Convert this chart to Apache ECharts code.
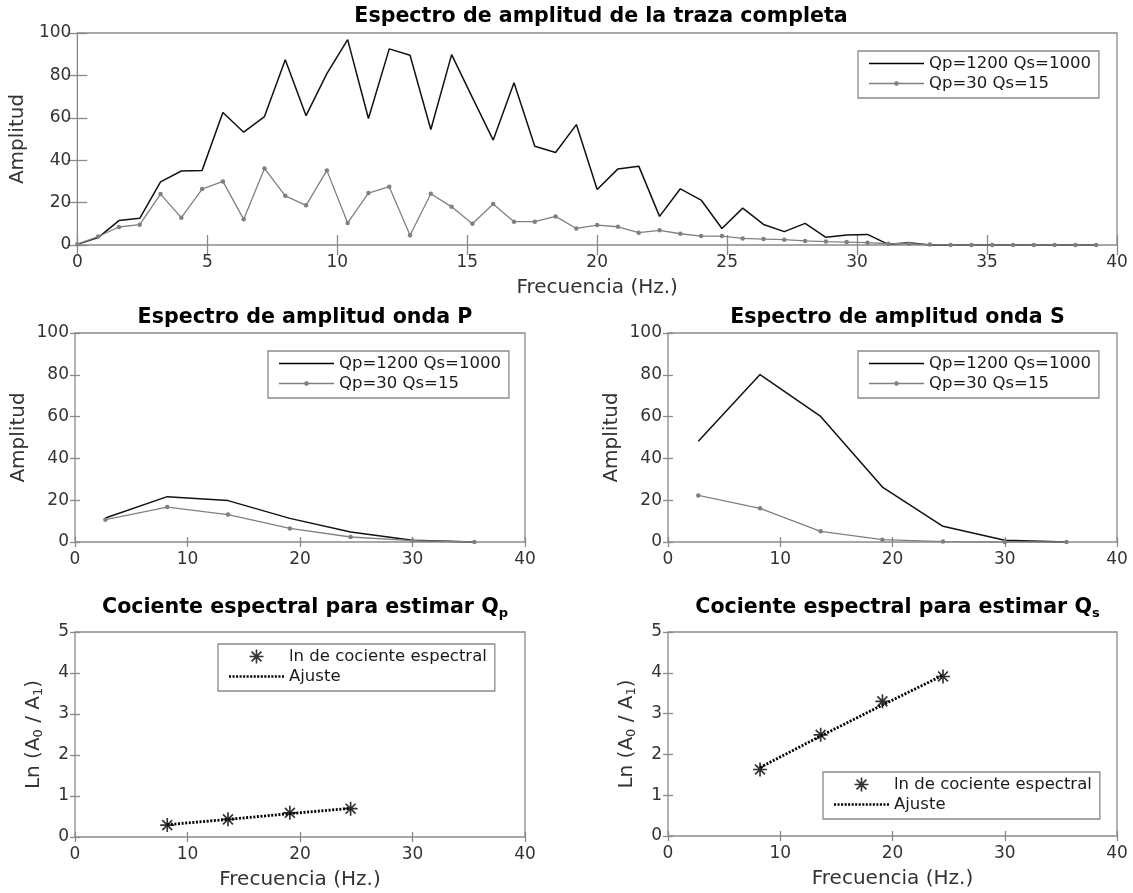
<!DOCTYPE html>
<html>
<head>
<meta charset="utf-8">
<script src="https://cdn.jsdelivr.net/npm/echarts@6/dist/echarts.min.js"></script>
<style>
  html, body { margin: 0; padding: 0; background: #ffffff; }
  #chart { width: 1133px; height: 893px; }
</style>
</head>
<body>
<div id="chart"></div>
<script>
// ---- Amplitude spectrum of the full trace (0.8 Hz spacing) ----
const fullFreq = [0, 0.8, 1.6, 2.4, 3.2, 4, 4.8, 5.6, 6.4, 7.2, 8, 8.8, 9.6, 10.4, 11.2, 12, 12.8, 13.6, 14.4, 15.2,
                  16, 16.8, 17.6, 18.4, 19.2, 20, 20.8, 21.6, 22.4, 23.2, 24, 24.8, 25.6, 26.4, 27.2, 28, 28.8, 29.6, 30.4, 31.2,
                  32, 32.8, 33.6, 34.4, 35.2, 36, 36.8, 37.6, 38.4, 39.2];
const fullHighQ = [0.3, 3.5, 11.5, 12.6, 29.8, 34.9, 35.2, 62.5, 53.2, 60.6, 87.4, 61, 80.8, 96.9, 59.7, 92.5, 89.5, 54.5, 89.8, 69.5,
                   49.5, 76.5, 46.6, 43.6, 56.8, 26.2, 35.9, 37.2, 13.5, 26.5, 21.2, 7.8, 17.4, 9.7, 6.3, 10.2, 3.6, 4.7, 5.0, 0.3,
                   1.1, 0, 0, 0, 0, 0, 0, 0, 0, 0];
const fullLowQ = [0.4, 4, 8.5, 9.6, 24, 12.9, 26.4, 30, 12.1, 36.1, 23.2, 18.7, 35.2, 10.4, 24.5, 27.5, 4.6, 24.2, 18, 10,
                  19.3, 11, 11, 13.5, 7.8, 9.4, 8.6, 5.8, 6.9, 5.3, 4.2, 4.2, 3.1, 2.8, 2.5, 1.9, 1.6, 1.4, 1.1, 0.6,
                  0.6, 0.2, 0, 0, 0, 0, 0, 0, 0, 0];

// ---- P and S wave amplitude spectra (band centres) ----
const bandFreq = [2.7, 8.2, 13.6, 19.1, 24.5, 30.0, 35.5];
const pHighQ = [11.5, 21.7, 19.8, 11.3, 4.8, 0.8, 0];
const pLowQ  = [10.7, 16.7, 13.1, 6.5, 2.4, 0.7, 0];
const sHighQ = [48.2, 80.1, 60.1, 26.3, 7.5, 0.8, 0];
const sLowQ  = [22.3, 16.1, 5.1, 1.1, 0.2, 0, 0];

// ---- Spectral ratios ln(A0/A1) and their linear fits ----
const ratioFreq = [8.2, 13.6, 19.1, 24.5];
const lnRatioP = [0.29, 0.43, 0.59, 0.69];
const fitP     = [0.30, 0.43, 0.57, 0.70];
const lnRatioS = [1.63, 2.48, 3.30, 3.91];
const fitS     = [1.68, 2.45, 3.21, 3.94];

// ---- Legend entries ----
const nameHighQ = 'Qp=1200 Qs=1000';
const nameLowQ  = 'Qp=30 Qs=15';
const nameRatio = 'ln de cociente espectral';
const nameFit   = 'Ajuste';

const zip = (xs, ys) => xs.map((x, i) => [x, ys[i]]);

const FONT = 'DejaVu Sans';
const AXIS_GRAY = '#8a8a8a';
const LABEL_COLOR = '#333333';
const LOW_GRAY = '#808080';

// asterisk marker (+ and x overlapped)
const STAR = 'path://M-1.2,-10 L1.2,-10 L1.2,10 L-1.2,10 Z M-10,-1.2 L10,-1.2 L10,1.2 L-10,1.2 Z ' +
             'M-6.22,-7.92 L7.92,6.22 L6.22,7.92 L-7.92,-6.22 Z M6.22,-7.92 L7.92,-6.22 L-6.22,7.92 L-7.92,6.22 Z';

// legend glyphs: plain line, line with a small dot, dotted line
const ICON_LINE = 'path://M0,-0.7 L55,-0.7 L55,0.7 L0,0.7 Z';
const ICON_LINE_DOT = 'path://M0,-0.65 L55,-0.65 L55,0.65 L0,0.65 Z ' +
  'M26.6,-2.2 L28.4,-2.2 L29.7,-0.9 L29.7,0.9 L28.4,2.2 L26.6,2.2 L25.3,0.9 L25.3,-0.9 Z';
let dots = '';
for (let x = 0; x + 2 <= 57; x += 3.6) dots += 'M' + x.toFixed(1) + ',-1.4 h2.1 v2.8 h-2.1 Z ';
const ICON_DOTTED = 'path://' + dots;

const panels = [
  { box: { left: 75, top: 33, width: 1042, height: 212 }, x: [0, 40, 5], y: [0, 100, 20], tick: 10,
    xName: 'Frecuencia (Hz.)', yName: 'Amplitud',
    title: 'Espectro de amplitud de la traza completa', titleTop: 1,
    legend: { left: 858, top: 51, data: [{ name: nameHighQ, icon: ICON_LINE }, { name: nameLowQ, icon: ICON_LINE_DOT }] } },
  { box: { left: 75, top: 333, width: 450, height: 209 }, x: [0, 40, 10], y: [0, 100, 20], tick: 5,
    xName: '', yName: 'Amplitud',
    title: 'Espectro de amplitud onda P', titleTop: 302,
    legend: { left: 268, top: 351, data: [{ name: nameHighQ, icon: ICON_LINE }, { name: nameLowQ, icon: ICON_LINE_DOT }] } },
  { box: { left: 668, top: 333, width: 449, height: 209 }, x: [0, 40, 10], y: [0, 100, 20], tick: 5,
    xName: '', yName: 'Amplitud',
    title: 'Espectro de amplitud onda S', titleTop: 302,
    legend: { left: 858, top: 351, data: [{ name: nameHighQ, icon: ICON_LINE }, { name: nameLowQ, icon: ICON_LINE_DOT }] } },
  { box: { left: 75, top: 632, width: 450, height: 205 }, x: [0, 40, 10], y: [0, 5, 1], tick: 5,
    xName: 'Frecuencia (Hz.)', yName: 'Ln (A{s|0} / A{s|1})',
    title: 'Cociente espectral para estimar Q{sub|p}', titleTop: 590,
    legend: { left: 218, top: 644, data: [{ name: nameRatio }, { name: nameFit, icon: ICON_DOTTED }] } },
  { box: { left: 668, top: 632, width: 449, height: 204 }, x: [0, 40, 10], y: [0, 5, 1], tick: 5,
    xName: 'Frecuencia (Hz.)', yName: 'Ln (A{s|0} / A{s|1})',
    title: 'Cociente espectral para estimar Q{sub|s}', titleTop: 590,
    legend: { left: 823, top: 772, data: [{ name: nameRatio }, { name: nameFit, icon: ICON_DOTTED }] } }
];

const grids = [], xAxes = [], yAxes = [], titles = [], legends = [];

panels.forEach((p, i) => {
  grids.push(Object.assign({ show: true, borderColor: AXIS_GRAY, borderWidth: 1.3, backgroundColor: 'transparent' }, p.box));
  const tickStyle = { inside: true, length: p.tick, lineStyle: { color: AXIS_GRAY, width: 1.3 } };
  const labelStyle = { fontFamily: FONT, fontSize: 17, color: LABEL_COLOR };
  // bottom axis with labels, top axis for the mirrored ticks
  xAxes.push({
    type: 'value', gridIndex: i, position: 'bottom', min: p.x[0], max: p.x[1], interval: p.x[2],
    axisLine: { show: false }, axisTick: tickStyle, splitLine: { show: false },
    axisLabel: Object.assign({ margin: 9 }, labelStyle),
    name: p.xName, nameLocation: 'middle', nameGap: 33,
    nameTextStyle: { fontFamily: FONT, fontSize: 20, color: LABEL_COLOR }
  });
  xAxes.push({
    type: 'value', gridIndex: i, position: 'top', min: p.x[0], max: p.x[1], interval: p.x[2],
    axisLine: { show: false }, axisTick: tickStyle, splitLine: { show: false }, axisLabel: { show: false }
  });
  yAxes.push({
    type: 'value', gridIndex: i, position: 'left', min: p.y[0], max: p.y[1], interval: p.y[2],
    axisLine: { show: false }, axisTick: tickStyle, splitLine: { show: false },
    axisLabel: Object.assign({ margin: 6 }, labelStyle),
    name: p.yName, nameLocation: 'middle', nameGap: i >= 3 ? 30 : 46,
    nameTextStyle: { fontFamily: FONT, fontSize: 20, color: LABEL_COLOR,
      rich: { s: { fontFamily: FONT, fontSize: 13, color: LABEL_COLOR, padding: [10, 0, 0, 0] } } }
  });
  yAxes.push({
    type: 'value', gridIndex: i, position: 'right', min: p.y[0], max: p.y[1], interval: p.y[2],
    axisLine: { show: false }, axisTick: tickStyle, splitLine: { show: false }, axisLabel: { show: false }
  });
  titles.push({
    text: p.title, left: p.box.left + p.box.width / 2, top: p.titleTop, textAlign: 'center',
    textStyle: { fontFamily: FONT, fontSize: 20.6, fontWeight: 'bold', color: '#000',
      rich: { sub: { fontFamily: FONT, fontSize: 13, fontWeight: 'bold', color: '#000', padding: [12, 0, 0, 0] } } }
  });
  legends.push({
    data: p.legend.data, left: p.legend.left, top: p.legend.top, orient: 'vertical',
    itemWidth: 55, itemHeight: 14, itemGap: 3, padding: [4, 8, 6, 11],
    borderColor: AXIS_GRAY, borderWidth: 1.3, backgroundColor: '#fff', selectedMode: false,
    textStyle: { fontFamily: FONT, fontSize: 16.5, color: '#1a1a1a' }
  });
});

const highLine = (data, k) => ({
  type: 'line', name: nameHighQ, xAxisIndex: 2 * k, yAxisIndex: 2 * k, data: data,
  symbol: 'none', color: '#000', lineStyle: { color: '#111', width: 1.5 }
});
const lowLine = (data, k) => ({
  type: 'line', name: nameLowQ, xAxisIndex: 2 * k, yAxisIndex: 2 * k, data: data,
  symbol: 'circle', symbolSize: 4.5, showAllSymbol: true, color: LOW_GRAY,
  itemStyle: { color: LOW_GRAY }, lineStyle: { color: LOW_GRAY, width: 1.3 }
});
const ratioPts = (data, k) => ({
  type: 'scatter', name: nameRatio, xAxisIndex: 2 * k, yAxisIndex: 2 * k, data: data,
  symbol: STAR, symbolSize: 14, color: '#000', itemStyle: { color: '#000' }
});
const fitLine = (data, k) => ({
  type: 'line', name: nameFit, xAxisIndex: 2 * k, yAxisIndex: 2 * k, data: data,
  symbol: 'none', color: '#000', lineStyle: { color: '#000', width: 2.8, type: [2, 1.6] }
});

const series = [
  highLine(zip(fullFreq, fullHighQ), 0), lowLine(zip(fullFreq, fullLowQ), 0),
  highLine(zip(bandFreq, pHighQ), 1),   lowLine(zip(bandFreq, pLowQ), 1),
  highLine(zip(bandFreq, sHighQ), 2),   lowLine(zip(bandFreq, sLowQ), 2),
  ratioPts(zip(ratioFreq, lnRatioP), 3), fitLine(zip(ratioFreq, fitP), 3),
  ratioPts(zip(ratioFreq, lnRatioS), 4), fitLine(zip(ratioFreq, fitS), 4)
];

const chart = echarts.init(document.getElementById('chart'), null, { renderer: 'canvas' });
chart.setOption({
  animation: false,
  backgroundColor: '#ffffff',
  textStyle: { fontFamily: FONT },
  title: titles,
  legend: legends,
  grid: grids,
  xAxis: xAxes,
  yAxis: yAxes,
  tooltip: { show: false },
  series: series
});
</script>
</body>
</html>
